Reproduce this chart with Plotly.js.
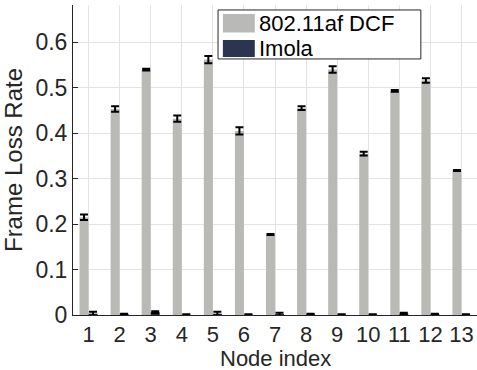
<!DOCTYPE html>
<html><head><meta charset="utf-8">
<script src="https://cdn.plot.ly/plotly-3.0.1.min.js"></script>
<style>html,body{margin:0;padding:0;background:#fff;}#c{width:477px;height:370px;}</style>
</head><body><div id="c"></div>
<script>
const nodes = [1,2,3,4,5,6,7,8,9,10,11,12,13];
const seriesNames = ['802.11af DCF','Imola'];
const seriesColors = ['#b9bab5','#2a3550'];
const dcfValues = [0.215,0.453,0.540,0.432,0.562,0.405,0.177,0.455,0.540,0.355,0.493,0.516,0.318];
const dcfErrors = [0.006,0.006,0.002,0.007,0.008,0.008,0.001,0.004,0.007,0.004,0.002,0.005,0.001];
const imolaValues = [0.003,0.002,0.006,0.001,0.003,0.001,0.002,0.002,0.001,0.001,0.003,0.002,0.001];
const imolaErrors = [0.004,0.001,0.002,0.0005,0.004,0.0005,0.003,0.001,0.0005,0.0005,0.002,0.001,0.0005];
const yTicks = [0,0.1,0.2,0.3,0.4,0.5,0.6];
const xTitle = 'Node index';
const yTitle = 'Frame Loss Rate';
const fontFam = 'Liberation Sans, Arial, sans-serif';
const txtColor = '#262626';
const traces = [
 {type:'bar', name:seriesNames[0], x:nodes, y:dcfValues,
  marker:{color:seriesColors[0]},
  error_y:{type:'data', array:dcfErrors, visible:true, color:'#000', thickness:2, width:4}},
 {type:'bar', name:seriesNames[1], x:nodes, y:imolaValues,
  marker:{color:seriesColors[1]},
  error_y:{type:'data', array:imolaErrors, visible:true, color:'#000', thickness:2, width:4}}
];
// manual legend (big swatches like the reference)
const lg = {x0:0.359, x1:0.861, y0:0.826, y1:0.984};
const shapes = [
 {type:'rect', xref:'paper', yref:'paper', x0:lg.x0, x1:lg.x1, y0:lg.y0, y1:lg.y1,
  line:{color:txtColor, width:1}, fillcolor:'#fff', layer:'above'}
];
const annotations = [
 {xref:'paper', yref:'paper', x:0.5, y:-0.0935, xanchor:'center', yanchor:'top',
  text:xTitle, showarrow:false, font:{size:22, family:fontFam, color:txtColor}}
];
const rowY = [[0.911,0.971],[0.832,0.887]];
seriesNames.forEach((n,i)=>{
 shapes.push({type:'rect', xref:'paper', yref:'paper', x0:0.371, x1:0.450,
   y0:rowY[i][0], y1:rowY[i][1], line:{width:0}, fillcolor:seriesColors[i], layer:'above'});
 annotations.push({xref:'paper', yref:'paper', x:0.455, y:(rowY[i][0]+rowY[i][1])/2,
   xanchor:'left', yanchor:'middle', text:n, showarrow:false,
   font:{size:22, family:fontFam, color:'#000'}});
});
const layout = {
 width:477, height:370,
 margin:{l:73, r:0, t:5, b:55},
 paper_bgcolor:'#fff', plot_bgcolor:'#fff',
 barmode:'group', bargap:0.42, bargroupgap:0,
 font:{family:fontFam, color:txtColor, size:22},
 xaxis:{range:[0.5,13.5], tickvals:nodes, ticktext:nodes.map(String),
   showgrid:true, gridcolor:'#e3e3e3', gridwidth:1,
   showline:true, linecolor:txtColor, linewidth:1, zeroline:false,
   ticks:'', tickfont:{size:22, family:fontFam, color:txtColor}},
 yaxis:{range:[0,0.682], tickvals:yTicks, ticktext:yTicks.map(v=>v===0?'0':v.toFixed(1)),
   showgrid:true, gridcolor:'#e3e3e3', gridwidth:1,
   showline:true, linecolor:txtColor, linewidth:1, zeroline:false,
   ticks:'inside', ticklen:5, tickcolor:txtColor,
   tickfont:{size:23, family:fontFam, color:txtColor},
   title:{text:yTitle, font:{size:24, family:fontFam, color:txtColor}, standoff:6}},
 showlegend:false,
 shapes:shapes, annotations:annotations
};
Plotly.newPlot('c', traces, layout, {displayModeBar:false, staticPlot:true});
</script></body></html>
